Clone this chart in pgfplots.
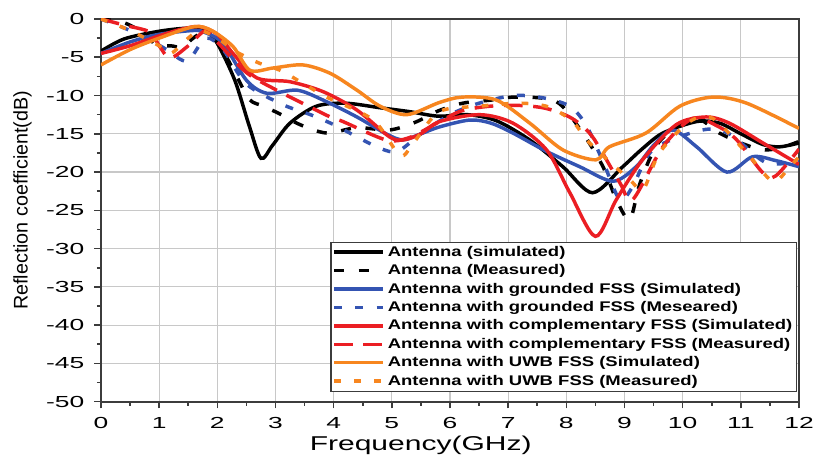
\documentclass[border=0pt]{standalone}
\usepackage{fontspec}
\setmainfont{Liberation Sans}
\newfontfamily\tickfont[FakeStretch=1.65]{Liberation Sans}
\newfontfamily\labfont[FakeStretch=1.5]{Liberation Sans}
\newfontfamily\legfont[FakeStretch=1.32]{Liberation Sans}
\usepackage{pgfplots}
\pgfplotsset{compat=1.18}
\definecolor{cblue}{RGB}{52,84,178}
\definecolor{cred}{RGB}{235,30,35}
\definecolor{corange}{RGB}{247,134,31}
\definecolor{cgrid}{RGB}{200,200,200}
\definecolor{caxis}{RGB}{60,60,60}
\begin{document}
\begin{tikzpicture}
\begin{axis}[
  scale only axis, width=523.5pt, height=287pt,
  xmin=0, xmax=12, ymin=-50, ymax=0,
  xtick={0,1,...,12}, ytick={-50,-45,...,0},
  minor x tick num=1, minor y tick num=1,
  grid=major, major grid style={cgrid, line width=0.9pt},
  axis line style={caxis, line width=1.5pt},
  tick style={caxis, line width=1.2pt},
  major tick length=5pt, minor tick length=3pt,
  tick align=outside, xtick pos=bottom, ytick pos=left,
  /pgf/number format/assume math mode=true,
  tick label style={font=\tickfont\fontsize{12}{14}\selectfont},
  xticklabel style={yshift=-3pt},
  yticklabel style={xshift=-4pt},
  xlabel={Frequency(GHz)}, ylabel={Reflection coefficient(dB)},
  xlabel style={font=\labfont\fontsize{15}{17}\selectfont, yshift=1pt, xshift=-22pt},
  ylabel style={font=\fontsize{14.8}{17}\selectfont, yshift=4pt, xshift=7.5pt},
  legend cell align=left,
  legend style={at={(rel axis cs:0.997,0.026)}, anchor=south east,
    font=\legfont\bfseries\fontsize{10.5}{12}\selectfont,
    draw=caxis, line width=0.8pt, fill=white, row sep=0.7pt,
    inner xsep=1pt, inner ysep=1pt},
  legend image code/.code={\draw[#1] (0pt,0pt) -- (37pt,0pt);},
  every axis plot/.append style={line width=2.6pt, smooth, tension=0.5},
]
\addplot[black] coordinates {
(0,-4.2) (0.4,-2.6) (1.0,-1.6) (1.5,-1.2) (1.8,-1.6) (2.0,-3.2) (2.3,-8) (2.55,-14) (2.75,-18.2) (2.95,-16.5) (3.25,-13.6) (3.7,-11.4) (4.2,-11.0) (4.8,-11.6) (5.3,-12.1) (5.8,-12.7) (6.3,-12.5) (6.8,-13.3) (7.37,-15.8) (7.94,-19.3) (8.45,-22.7) (8.97,-19.3) (9.3,-17) (9.66,-14.9) (10.24,-13.4) (10.63,-13.6) (11.0,-15) (11.38,-16.4) (11.67,-16.7) (12,-16.2)};
\addlegendentry{Antenna (simulated)}
\addplot[black, dash pattern=on 7.5pt off 11pt] coordinates {
(0,0) (0.4,-0.5) (0.75,-1.9) (0.95,-3.4) (1.2,-3.5) (1.4,-3.6) (1.7,-2) (2.0,-3) (2.3,-7) (2.55,-10.5) (2.8,-11.4) (3.1,-12.5) (3.42,-13.8) (3.88,-14.9) (4.4,-14.2) (4.96,-14.5) (5.4,-13.5) (5.8,-12) (6.22,-11) (6.7,-10.6) (7.14,-10.2) (7.83,-10.8) (8.28,-14.9) (8.63,-19.3) (8.86,-23.6) (9.09,-26.2) (9.27,-21.4) (9.6,-16) (10.2,-13) (10.63,-14.9) (11.0,-16.2) (11.38,-17.1) (11.7,-16.8) (12,-16)};
\addlegendentry{Antenna (Measured)}
\addplot[cblue] coordinates {
(0,-4.5) (0.5,-3) (1.0,-2) (1.6,-1.5) (1.8,-1.8) (2.1,-3.2) (2.5,-8) (2.85,-9.7) (3.37,-9.3) (3.82,-10.6) (4.4,-12.8) (4.9,-15) (5.19,-15.8) (5.5,-15) (5.82,-14.1) (6.34,-13.2) (6.7,-13.6) (7.08,-14.9) (7.66,-17.3) (8.23,-19.3) (8.8,-21.2) (9.2,-19.3) (9.5,-16.5) (9.83,-14.5) (10.24,-16.7) (10.76,-20) (11.2,-18) (11.6,-18.5) (12,-19.3)};
\addlegendentry{Antenna with grounded FSS (Simulated)}
\addplot[cblue, dash pattern=on 6pt off 10pt] coordinates {
(0,0) (0.5,-1.5) (0.9,-3) (1.13,-4) (1.48,-5.5) (1.8,-2.5) (2.1,-4) (2.5,-8.5) (3.13,-11.2) (3.6,-12.5) (4.0,-13.8) (4.4,-15.4) (4.8,-16.9) (5.1,-17.3) (5.5,-15) (6.0,-12.5) (6.5,-11) (7.1,-10) (7.6,-10.3) (8.06,-11.4) (8.35,-14) (8.65,-19) (8.92,-23.6) (9.14,-21.9) (9.5,-17) (10.34,-14.5) (10.8,-15) (11.44,-18.8) (12,-18.5)};
\addlegendentry{Antenna with grounded FSS (Meseared)}
\addplot[cred] coordinates {
(0,-4.5) (0.5,-3.5) (1.0,-2.2) (1.4,-1.3) (1.7,-1.0) (2.0,-2) (2.27,-4.5) (2.68,-7.7) (3.25,-8.2) (3.82,-9.5) (4.4,-11.9) (4.96,-15.4) (5.2,-15.8) (5.5,-15) (5.82,-13.4) (6.51,-12.5) (7.08,-13.6) (7.66,-17.1) (8.06,-22.7) (8.5,-28.4) (8.86,-23.6) (9.31,-18.4) (9.89,-13.8) (10.4,-12.8) (10.8,-13.6) (11.38,-16.2) (12,-19)};
\addlegendentry{Antenna with complementary FSS (Simulated)}
\addplot[cred, dash pattern=on 14pt off 8pt] coordinates {
(0,0) (0.4,-0.8) (0.84,-1.7) (1.0,-3.5) (1.19,-5.1) (1.5,-3.5) (1.8,-1.5) (2.0,-3) (2.5,-7) (3.02,-9.3) (3.25,-10.2) (3.94,-12.8) (4.16,-13.4) (4.9,-15.8) (5.3,-15.5) (5.8,-13.5) (6.2,-12) (6.68,-11.4) (7.2,-11.3) (7.66,-11.7) (8.1,-13) (8.45,-15.4) (8.92,-21.4) (9.14,-23.6) (9.66,-16.7) (10.17,-13) (10.6,-14) (10.93,-15.8) (11.38,-20.1) (11.6,-20.5) (12,-17)};
\addlegendentry{Antenna with complementary FSS (Measured)}
\addplot[corange] coordinates {
(0,-6) (0.5,-4) (1.0,-2.5) (1.6,-1.0) (1.9,-1.5) (2.27,-3.6) (2.56,-6.7) (2.96,-6.4) (3.47,-6) (3.94,-7.1) (4.4,-9.3) (4.8,-11.4) (5.26,-12.5) (5.82,-10.9) (6.22,-10.2) (6.8,-10.6) (7.37,-13.6) (7.94,-17.1) (8.51,-18.4) (8.74,-16.7) (9.37,-14.9) (9.95,-11.4) (10.52,-10.2) (11.1,-11) (12,-14.3)};
\addlegendentry{Antenna with UWB FSS (Simulated)}
\addplot[corange, dash pattern=on 5pt off 10pt] coordinates {
(0,0) (0.5,-1.5) (1.0,-3.5) (1.2,-4.5) (1.5,-2.5) (1.7,-1.5) (2.0,-2.5) (2.33,-4.3) (2.73,-5.8) (3.08,-6.7) (3.47,-8.4) (3.88,-10.2) (4.68,-13.2) (5.14,-17.8) (5.37,-16.2) (5.82,-12.1) (6.51,-11.4) (7.2,-11) (7.7,-11.5) (8.11,-13.4) (8.4,-16.2) (9.09,-21) (9.32,-22.3) (9.6,-17.5) (10.12,-13.4) (10.52,-13) (11.1,-17.5) (11.55,-21.2) (11.84,-19.3) (12,-18)};
\addlegendentry{Antenna with UWB FSS (Measured)}
\end{axis}
\pgfresetboundingbox
\path (-75.75pt,-40.5pt) rectangle (537pt,301.25pt);
\end{tikzpicture}
\end{document}
